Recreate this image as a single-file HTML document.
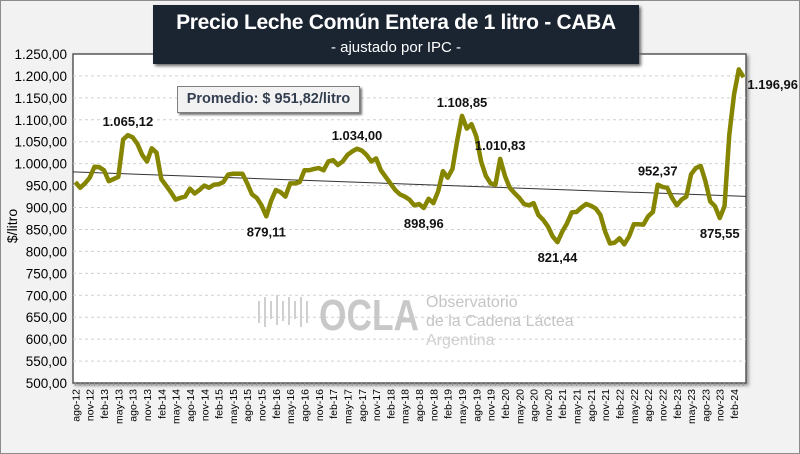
<!DOCTYPE html>
<html><head><meta charset="utf-8"><style>
body{margin:0;background:#fff;}
#wrap{position:relative;width:800px;height:454px;background:#f2f2f2;box-sizing:border-box;border:1px solid #8c8c8c;overflow:hidden;font-family:"Liberation Sans",sans-serif;}
</style></head><body>
<div id="wrap">
<svg id="chart" width="800" height="454" style="position:absolute;left:0;top:0">
<defs><filter id="sh" x="-5%" y="-5%" width="110%" height="110%"><feDropShadow dx="2" dy="2" stdDeviation="1.5" flood-color="#555" flood-opacity="0.6"/></filter></defs>
<rect x="72" y="53" width="673" height="329" fill="#fff" stroke="#595959" stroke-width="1.5" filter="url(#sh)"/>
<g id="grid"></g>
<g id="watermark" fill="#c8c8c8">
<path d="M258 300 v22 M264 296 v30 M270 300 v18 M276 294 v30 M282 300 v20 M288 296 v28 M294 300 v18 M300 296 v30 M306 300 v22" stroke="#d0d0d0" stroke-width="2" fill="none"/>
<text x="318" y="329" font-size="44" font-weight="bold" fill="#c8c8c8" textLength="100" lengthAdjust="spacingAndGlyphs">OCLA</text>
<text x="425" y="306" font-size="16" fill="#c4c4c4">Observatorio</text>
<text x="425" y="325" font-size="16" fill="#c4c4c4">de la Cadena Láctea</text>
<text x="425" y="344" font-size="16" fill="#cfcfcf">Argentina</text>
</g>
<g id="yaxis"></g>
<g id="xaxis"></g>
<g id="trend"></g>
<g id="series"></g>
<g id="labels"></g>
<text x="0" y="0" transform="translate(16,225) rotate(-90)" text-anchor="middle" font-size="14" fill="#000">$/litro</text>
</svg>
<div style="position:absolute;left:152px;top:4px;width:486px;height:59px;background:#1b2431;box-shadow:2px 2px 3px #666;color:#fff;text-align:center;">
<div style="font-size:21px;font-weight:bold;margin-top:6px;white-space:nowrap;letter-spacing:-0.3px;">Precio Leche Común Entera de 1 litro - CABA</div>
<div style="font-size:15px;margin-top:4px;">- ajustado por IPC -</div>
</div>
<div style="position:absolute;left:176px;top:85px;width:183px;height:27px;box-sizing:border-box;background:#f2f2f2;border:1px solid #7f7f7f;box-shadow:2px 2px 2px #777;font-size:14.5px;font-weight:bold;color:#333f50;text-align:center;line-height:25px;">Promedio: $ 951,82/litro</div>
</div>
<script>
const months=["ene","feb","mar","abr","may","jun","jul","ago","sep","oct","nov","dic"];
const values=[958,945,955,968,993,992,985,960,965,970,1055,1065,1060,1045,1020,1005,1035,1025,965,950,
935,918,922,925,943,932,940,950,945,952,953,958,975,977,977,977,955,930,922,905,
880,915,940,935,925,955,955,958,985,985,988,990,985,1005,1008,997,1005,1020,1028,1034,
1030,1020,1005,1012,985,970,955,940,930,925,918,905,908,899,920,910,937,983,968,988,
1053,1109,1080,1090,1062,1005,972,955,952,1011,972,945,933,922,908,905,910,883,872,857,
834,821,845,864,889,890,900,908,904,898,883,845,818,820,830,816,834,862,862,861,
880,890,952,947,945,922,905,918,925,976,990,995,960,914,903,876,903,1066,1158,1215,1197];
const yTicks=[500,550,600,650,700,750,800,850,900,950,1000,1050,1100,1150,1200,1250];
const annotations=[[11,"1.065,12",-1],[40,"879,11",1],[59,"1.034,00",-1],[73,"898,96",1],[81,"1.108,85",-1],[89,"1.010,83",-1],[101,"821,44",1],[122,"952,37",-1],[135,"875,55",1],[140,"1.196,96",0]];
const startMonth=7,startYear=12;
const X0=72,X1=745,Y0=382,Y1=53,N=values.length;
const xs=i=>X0+(i+0.5)*(X1-X0)/N;
const ys=v=>Y0-(v-500)/(1250-500)*(Y0-Y1);
const NS="http://www.w3.org/2000/svg";
function mk(tag,attrs,parent){const e=document.createElementNS(NS,tag);for(const k in attrs)e.setAttribute(k,attrs[k]);parent.appendChild(e);return e;}
const grid=document.getElementById('grid'),yax=document.getElementById('yaxis'),xax=document.getElementById('xaxis');
yTicks.forEach(t=>{
 if(t>500&&t<1250){const l=mk('line',{x1:X0,x2:X1,y1:ys(t),y2:ys(t),stroke:'#d0d0d0','stroke-dasharray':'3,3'},grid);
 
 }
 const tx=mk('text',{x:66,y:ys(t)+5,'text-anchor':'end','font-size':'13.5',fill:'#000'},yax);
 tx.textContent=t.toLocaleString('de-DE',{minimumFractionDigits:2});
 
 
});
for(let i=0;i<N;i++){
 mk('line',{x1:xs(i),x2:xs(i),y1:Y0,y2:Y0+3,stroke:'#999'},xax);
 if(i%3===0){const m=(startMonth+i)%12,yr=startYear+Math.floor((startMonth+i)/12);
 const tx=mk('text',{x:0,y:0,transform:`translate(${xs(i)+4},388) rotate(-90)`,'text-anchor':'end','font-size':'10.5',fill:'#000'},xax);
 tx.textContent=months[m]+"-"+yr;
 
 }
}
let sx=0,sy=0,sxx=0,sxy=0;values.forEach((v,i)=>{sx+=i;sy+=v;sxx+=i*i;sxy+=i*v;});
const b=(N*sxy-sx*sy)/(N*sxx-sx*sx),a=(sy-b*sx)/N;
const tl=mk('line',{x1:X0,y1:ys(a-0.5*b),x2:X1,y2:ys(a+(N-0.5)*b),stroke:'#333','stroke-width':1},document.getElementById('trend'));


const pl=mk('polyline',{points:values.map((v,i)=>xs(i)+","+ys(v)).join(" "),fill:'none',stroke:'#858500','stroke-width':4.5,'stroke-linejoin':'round'},document.getElementById('series'));


annotations.forEach(([i,t,d])=>{
 let x=xs(i),y=ys(values[i]);let anchor='middle';
 if(d<0)y-=9;else if(d>0)y+=20;else{x=797;y+=12;anchor='end';}
 const tx=mk('text',{x:x,y:y,'text-anchor':anchor,'font-size':'13','font-weight':'bold',fill:'#111'},document.getElementById('labels'));
 tx.textContent=t;
 
 
});
</script>
</body></html>
